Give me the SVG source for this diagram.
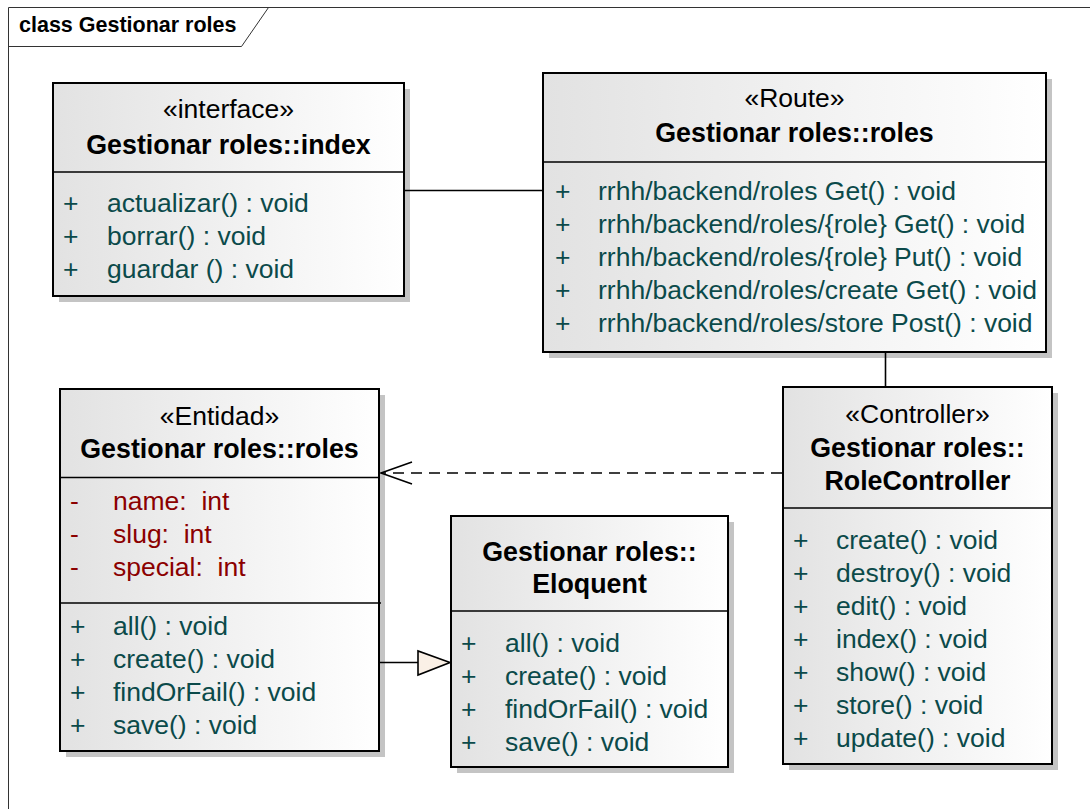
<svg xmlns="http://www.w3.org/2000/svg" width="1090" height="809" viewBox="0 0 1090 809">
<style>
text{font-family:"Liberation Sans",Arial,sans-serif;white-space:pre}
.box{stroke:#000;stroke-width:2;fill:url(#g)}
.sh{fill:#c4c4c4}
.div{stroke:#000;stroke-width:1.6;fill:none}
.st{font-size:26.5px;fill:#000;text-anchor:middle}
.tt{font-size:26.8px;font-weight:bold;fill:#000;text-anchor:middle}
.op{font-size:26.5px;fill:#0b4a4a}
.at{font-size:26.5px;fill:#8b0000}
.ln{stroke:#000;stroke-width:1.6;fill:none}
</style>
<defs>
<linearGradient id="g" x1="0" y1="0" x2="1" y2="0">
<stop offset="0" stop-color="#e2e2e2"/>
<stop offset="1" stop-color="#ffffff"/>
</linearGradient>
</defs>
<rect width="1090" height="809" fill="#fff"/>
<g id="frame">
<path d="M8.5,809 V7.5 H1090" fill="none" stroke="#333" stroke-width="1"/>
<path d="M8.5,46.5 H241.5 L268.5,7.5" fill="none" stroke="#333" stroke-width="1"/>
<text x="19" y="32" style="font-size:21.5px;font-weight:bold">class Gestionar roles</text>
</g>
<g id="index">
<rect class="sh" x="59" y="89" width="351" height="213"/>
<rect class="box" x="53" y="83" width="351" height="213"/>
<line class="div" x1="53" y1="172" x2="404" y2="172"/>
<text class="st" x="228.5" y="118">«interface»</text>
<text class="tt" x="228.5" y="154">Gestionar roles::index</text>
<text class="op" x="63" y="212">+</text><text class="op" x="107" y="212">actualizar() : void</text>
<text class="op" x="63" y="245">+</text><text class="op" x="107" y="245">borrar() : void</text>
<text class="op" x="63" y="278">+</text><text class="op" x="107" y="278">guardar () : void</text>
</g>
<g id="route">
<rect class="sh" x="549" y="79" width="503" height="279"/>
<rect class="box" x="543" y="73" width="503" height="279"/>
<line class="div" x1="543" y1="162" x2="1046" y2="162"/>
<text class="st" x="794.5" y="107">«Route»</text>
<text class="tt" x="794.5" y="142">Gestionar roles::roles</text>
<text class="op" x="555" y="200">+</text><text class="op" x="598" y="200">rrhh/backend/roles Get() : void</text>
<text class="op" x="555" y="233">+</text><text class="op" x="598" y="233">rrhh/backend/roles/{role} Get() : void</text>
<text class="op" x="555" y="266">+</text><text class="op" x="598" y="266">rrhh/backend/roles/{role} Put() : void</text>
<text class="op" x="555" y="299">+</text><text class="op" x="598" y="299">rrhh/backend/roles/create Get() : void</text>
<text class="op" x="555" y="332">+</text><text class="op" x="598" y="332">rrhh/backend/roles/store Post() : void</text>
</g>
<g id="entidad">
<rect class="sh" x="66" y="395" width="319" height="362"/>
<rect class="box" x="60" y="389" width="319" height="362"/>
<line class="div" x1="60" y1="477.5" x2="379" y2="477.5"/>
<line class="div" x1="60" y1="603" x2="381" y2="603"/>
<text class="st" x="219.5" y="425">«Entidad»</text>
<text class="tt" x="219.5" y="458">Gestionar roles::roles</text>
<text class="at" x="70" y="510">-</text><text class="at" x="113" y="510">name:  int</text>
<text class="at" x="70" y="543">-</text><text class="at" x="113" y="543">slug:  int</text>
<text class="at" x="70" y="576">-</text><text class="at" x="113" y="576">special:  int</text>
<text class="op" x="70" y="635">+</text><text class="op" x="113" y="635">all() : void</text>
<text class="op" x="70" y="668">+</text><text class="op" x="113" y="668">create() : void</text>
<text class="op" x="70" y="701">+</text><text class="op" x="113" y="701">findOrFail() : void</text>
<text class="op" x="70" y="734">+</text><text class="op" x="113" y="734">save() : void</text>
</g>
<g id="eloquent">
<rect class="sh" x="457" y="522" width="277" height="251"/>
<rect class="box" x="451" y="516" width="277" height="251"/>
<line class="div" x1="451" y1="611" x2="728" y2="611"/>
<text class="tt" x="589.5" y="561">Gestionar roles::</text>
<text class="tt" x="589.5" y="593">Eloquent</text>
<text class="op" x="461" y="652">+</text><text class="op" x="505" y="652">all() : void</text>
<text class="op" x="461" y="685">+</text><text class="op" x="505" y="685">create() : void</text>
<text class="op" x="461" y="718">+</text><text class="op" x="505" y="718">findOrFail() : void</text>
<text class="op" x="461" y="751">+</text><text class="op" x="505" y="751">save() : void</text>
</g>
<g id="controller">
<rect class="sh" x="789" y="393" width="269" height="377"/>
<rect class="box" x="783" y="387" width="269" height="377"/>
<line class="div" x1="783" y1="508" x2="1052" y2="508"/>
<text class="st" x="917.5" y="423">«Controller»</text>
<text class="tt" x="917.5" y="457">Gestionar roles::</text>
<text class="tt" x="917.5" y="490">RoleController</text>
<text class="op" x="793" y="549">+</text><text class="op" x="836" y="549">create() : void</text>
<text class="op" x="793" y="582">+</text><text class="op" x="836" y="582">destroy() : void</text>
<text class="op" x="793" y="615">+</text><text class="op" x="836" y="615">edit() : void</text>
<text class="op" x="793" y="648">+</text><text class="op" x="836" y="648">index() : void</text>
<text class="op" x="793" y="681">+</text><text class="op" x="836" y="681">show() : void</text>
<text class="op" x="793" y="714">+</text><text class="op" x="836" y="714">store() : void</text>
<text class="op" x="793" y="747">+</text><text class="op" x="836" y="747">update() : void</text>
</g>
<g id="connectors">
<line class="ln" x1="405" y1="190.5" x2="542" y2="190.5"/>
<line class="ln" x1="885.5" y1="353" x2="885.5" y2="386"/>
<line class="ln" x1="782" y1="473" x2="382" y2="473" stroke-dasharray="11,7"/>
<path class="ln" d="M412,462 L381,473 L412,484"/>
<line class="ln" x1="380" y1="662.5" x2="418" y2="662.5"/>
<path d="M418,651 L418,675 L450,662.5 Z" fill="#faf0e6" stroke="#000" stroke-width="1.6"/>
</g>
</svg>
